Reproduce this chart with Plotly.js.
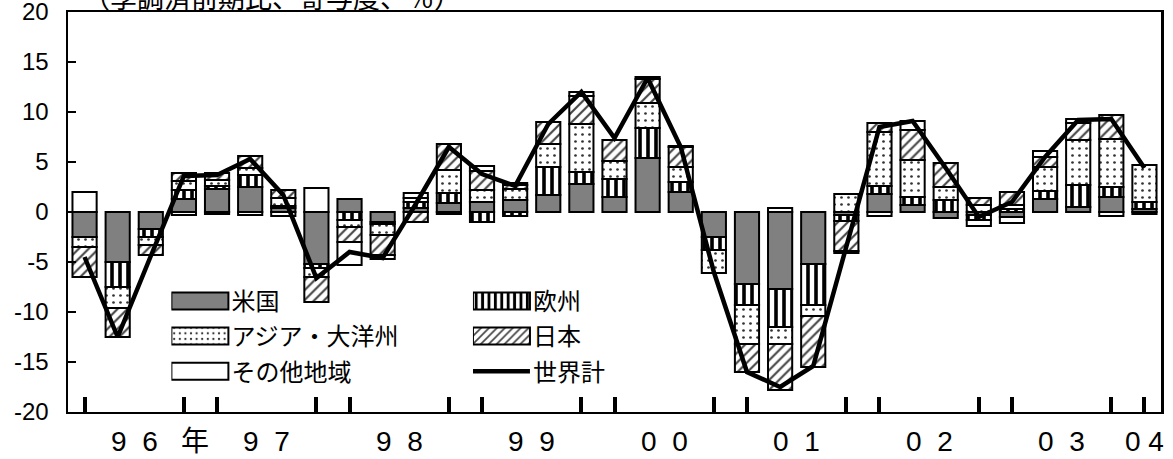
<!DOCTYPE html>
<html>
<head>
<meta charset="utf-8">
<script src="https://cdn.plot.ly/plotly-3.0.1.min.js"></script>
<style>
  html, body { margin: 0; padding: 0; background: #ffffff; }
  #chart { width: 1173px; height: 459px; }
</style>
</head>
<body>
<div id="chart"></div>
<script>
// ---- data ----
const quarters = ['96Q1','96Q2','96Q3','96Q4','97Q1','97Q2','97Q3','97Q4',
                  '98Q1','98Q2','98Q3','98Q4','99Q1','99Q2','99Q3','99Q4',
                  '00Q1','00Q2','00Q3','00Q4','01Q1','01Q2','01Q3','01Q4',
                  '02Q1','02Q2','02Q3','02Q4','03Q1','03Q2','03Q3','03Q4',
                  '04Q1'];
const seriesNames = ['米国', '欧州', 'アジア・大洋州', '日本', 'その他地域', '世界計'];
const us    = [-2.5,-5.0,-1.7, 1.3, 2.3, 2.5, 0.4,-5.2, 1.3,-1.0, 0.4, 0.9, 1.0, 1.2, 1.7, 2.8,
                1.5, 5.4, 2.0,-2.5,-7.2,-7.7,-5.2,-0.3, 1.8, 0.7,-0.6,-0.3,-0.5, 1.3, 0.5, 1.5, 0.3];
const eu    = [ 0.0,-2.5,-0.8, 0.9, 0.3, 1.2, 0.2,-0.4,-0.8,-0.2, 0.6, 1.0,-1.0,-0.4, 2.8, 1.2,
                1.8, 3.0, 1.0,-1.3,-2.1,-3.8,-4.1,-0.6, 0.8, 0.8, 1.2,-0.5, 0.3, 0.8, 2.2, 1.0, 0.7];
const asia  = [-1.0,-2.1,-0.8, 0.9, 0.6, 0.7, 0.8,-0.9,-0.7,-1.1, 0.4, 2.3, 1.2, 1.1, 2.3, 4.8,
                1.8, 2.5, 1.5,-2.3,-3.9,-1.7,-1.1, 1.8, 5.4, 3.7, 1.3, 0.7, 0.4, 2.4, 4.5, 4.8, 3.7];
const japan = [-3.0,-2.9,-1.0, 0.8, 0.7, 1.2, 0.8,-2.5,-1.5,-2.0,-1.0, 2.6, 1.9, 0.4, 2.2, 2.8,
                2.1, 2.4, 2.0, 0.0,-2.8,-4.6,-5.1,-3.0, 0.9, 3.0, 2.4, 0.7, 1.3, 1.0, 1.7, 2.4, 0.0];
const other = [ 2.0, 0.0, 0.0,-0.3,-0.2,-0.3,-0.4, 2.4,-2.3,-0.4, 0.5,-0.2, 0.5, 0.2, 0.0, 0.4,
                0.0, 0.2, 0.1, 0.0, 0.0, 0.4, 0.0,-0.2,-0.4, 0.9, 0.0,-0.6,-0.6, 0.6, 0.4,-0.4,-0.2];
const world = [-4.5,-12.5,-4.4, 3.6, 3.7, 5.3, 1.7,-6.6,-4.0,-4.6, 0.8, 6.5, 3.8, 2.6, 8.8,12.0,
                7.4,13.4, 6.5,-6.0,-16.0,-17.5,-15.4,-3.3, 8.5, 9.1, 4.4,-0.5, 1.0, 5.5, 9.2, 9.3, 4.4];
const yTickVals = [-20,-15,-10,-5,0,5,10,15,20];
const yTickText = ['-20','-15','-10','-5','0','5','10','15','20'];
const yearLabels = ['9\u00a0\u00a06\u00a0\u00a0\u00a0年','9\u00a0\u00a07','9\u00a0\u00a08','9\u00a0\u00a09',
                    '0\u00a0\u00a00','0\u00a0\u00a01','0\u00a0\u00a02','0\u00a0\u00a03','0\u00a04'];
const yearKeys = ['96','97','98','99','00','01','02','03','04'];
const titleText = '（季調済前期比、寄与度、％）';

// ---- styling ----
const FONT = "'Liberation Sans', 'Noto Sans CJK JP', Arial, sans-serif";
const JFONT = "'Noto Sans CJK JP', 'Liberation Sans', sans-serif";
const outline = {color: '#000000', width: 2};

function barTrace(name, vals, legend, marker) {
  return {
    type: 'bar', name: name, x: quarters, y: vals,
    legend: legend, legendgroup: name,
    marker: Object.assign({line: outline}, marker),
    hovertemplate: '%{x}: %{y}<extra>' + name + '</extra>'
  };
}

const traces = [
  barTrace(seriesNames[0], us, 'legend', {color: '#808080'}),
  barTrace(seriesNames[1], eu, 'legend2', {color: '#ffffff',
    pattern: {shape: '|', size: 8, solidity: 0.45, fgcolor: '#000000', bgcolor: '#ffffff', fillmode: 'replace'}}),
  barTrace(seriesNames[2], asia, 'legend', {color: '#ffffff',
    pattern: {shape: '.', size: 7, solidity: 0.12, fgcolor: '#333333', bgcolor: '#ffffff', fillmode: 'replace'}}),
  barTrace(seriesNames[3], japan, 'legend2', {color: '#ffffff',
    pattern: {shape: '/', size: 7, solidity: 0.3, fgcolor: '#444444', bgcolor: '#ffffff', fillmode: 'replace'}}),
  barTrace(seriesNames[4], other, 'legend', {color: '#ffffff'}),
  {
    type: 'scatter', mode: 'lines', name: seriesNames[5], x: quarters, y: world,
    legend: 'legend2', legendgroup: seriesNames[5],
    line: {color: '#000000', width: 4.5},
    hovertemplate: '%{x}: %{y}<extra>' + seriesNames[5] + '</extra>'
  }
];

// bottom ticks at Q4 and Q1 of each year
const bottomTicks = quarters.filter(q => q.endsWith('Q1') || q.endsWith('Q4'));

// year label annotations
const annotations = yearKeys.map((yk, i) => {
  const q2 = quarters.indexOf(yk + 'Q2');
  const q3 = quarters.indexOf(yk + 'Q3');
  let xpos = (q2 >= 0 && q3 >= 0) ? (q2 + q3) / 2 : quarters.indexOf(yk + 'Q1');
  let anchor = 'center';
  if (i === 0) { xpos = 0.74; anchor = 'left'; }
  return {
    xref: 'x', yref: 'paper', x: xpos, y: -0.073,
    xanchor: anchor, yanchor: 'middle', showarrow: false,
    text: yearLabels[i], font: {family: FONT, size: 28, color: '#000000'}
  };
});
annotations.push({
  xref: 'paper', yref: 'paper', x: 0.012, y: 1.0375,
  xanchor: 'left', yanchor: 'middle', showarrow: false,
  text: titleText, font: {family: JFONT, size: 27, color: '#000000'}
});

const legendBase = {
  yanchor: 'top', xanchor: 'left', y: 0.333,
  bgcolor: 'rgba(0,0,0,0)', borderwidth: 0,
  font: {family: JFONT, size: 24, color: '#000000'},
  traceorder: 'grouped', tracegroupgap: 1, itemwidth: 50
};

const layout = {
  width: 1173, height: 459,
  margin: {l: 68, r: 12, t: 12, b: 47, pad: 0},
  paper_bgcolor: '#ffffff', plot_bgcolor: '#ffffff',
  font: {family: FONT, color: '#000000'},
  barmode: 'relative', bargap: 0.27,
  showlegend: true,
  xaxis: {
    type: 'category', categoryorder: 'array', categoryarray: quarters,
    range: [-0.5, quarters.length - 0.5],
    showline: true, linecolor: '#000000', linewidth: 2, mirror: true,
    ticks: 'inside', tickmode: 'array', tickvals: bottomTicks,
    ticklen: 15, tickwidth: 4, tickcolor: '#000000',
    showticklabels: false, showgrid: false, zeroline: false, fixedrange: true
  },
  xaxis2: {
    overlaying: 'x', anchor: 'free', position: 0.5, side: 'bottom',
    type: 'linear', range: [-0.5, quarters.length - 0.5], autorange: false,
    showline: true, linecolor: '#000000', linewidth: 2,
    ticks: 'inside', tick0: 0.5, dtick: 1, ticklen: 7, tickwidth: 2, tickcolor: '#000000',
    showticklabels: false, showgrid: false, zeroline: false, fixedrange: true
  },
  yaxis: {
    range: [-20, 20], tickmode: 'array', tickvals: yTickVals, ticktext: yTickText,
    showline: true, linecolor: '#000000', linewidth: 2.5, mirror: true,
    ticks: 'inside', ticklen: 8, tickwidth: 2, tickcolor: '#000000',
    ticklabelstandoff: 12, ticklabeloverflow: 'allow',
    tickfont: {family: FONT, size: 24, color: '#000000'},
    showgrid: false, zeroline: false, fixedrange: true
  },
  legend: Object.assign({}, legendBase, {x: 0.0946}),
  legend2: Object.assign({}, legendBase, {x: 0.3705}),
  annotations: annotations
};

// enlarge the legend keys to the wide swatches of the original figure
function widenLegendKeys(gd) {
  gd.querySelectorAll('g.traces').forEach(tr => {
    try {
      const txt = tr.querySelector('text');
      if (!txt) return;
      const tb = txt.getBoundingClientRect();
      const right = tb.left - 3, left = right - 57;
      tr.querySelectorAll('path').forEach(p => {
        try {
          const pb = p.getBoundingClientRect();
          if (pb.width === 0 && pb.height === 0) return;
          const cy = pb.top + pb.height / 2;
          const ctm = p.parentNode.getScreenCTM();
          if (!ctm) return;
          const inv = ctm.inverse();
          const isLine = p.classList.contains('js-line') || p.closest('.legendlines') !== null || pb.height < 1;
          p.removeAttribute('transform');
          const a = new DOMPoint(left, isLine ? cy : cy - 8.5).matrixTransform(inv);
          const b = new DOMPoint(right, isLine ? cy : cy + 8.5).matrixTransform(inv);
          if (isLine) {
            p.setAttribute('d', 'M' + a.x + ',' + a.y + 'H' + b.x);
          } else {
            p.setAttribute('d', 'M' + a.x + ',' + a.y + 'H' + b.x + 'V' + b.y + 'H' + a.x + 'Z');
          }
        } catch (e) { /* keep going */ }
      });
    } catch (e) { /* keep going */ }
  });
}

const gdEl = document.getElementById('chart');
Plotly.newPlot(gdEl, traces, layout, {displayModeBar: false, staticPlot: true})
  .then(gd => {
    widenLegendKeys(gd);
    gd.on('plotly_afterplot', () => widenLegendKeys(gd));
  });
</script>
</body>
</html>
